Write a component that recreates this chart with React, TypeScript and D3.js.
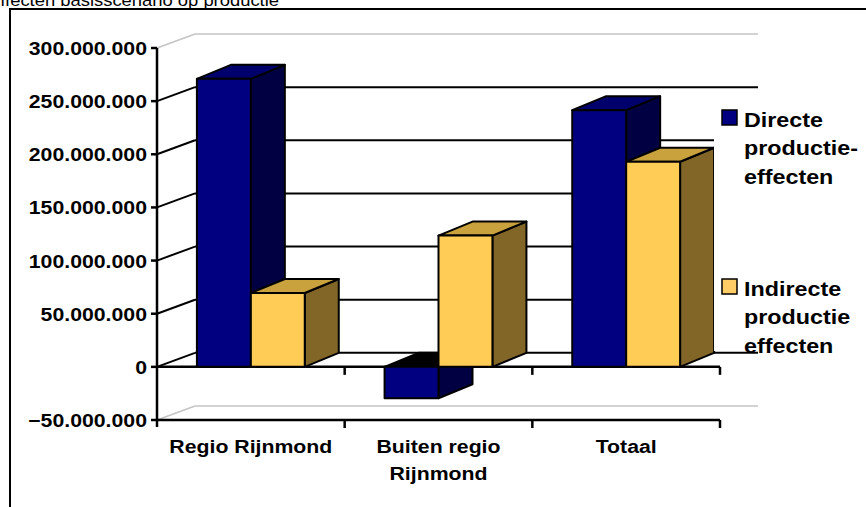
import React from "react";
import * as d3 from "d3";

// Categories (each entry lists the label lines) and the two series, in euros
const categoryLines: string[][] = [["Regio Rijnmond"], ["Buiten regio", "Rijnmond"], ["Totaal"]];
const directe: number[] = [271e6, -29.5e6, 241.5e6];
const indirecte: number[] = [69.5e6, 123.5e6, 193e6];
const seriesNames: string[] = ["Directe", "Indirecte"];
const legendLines: string[][] = [
  ["Directe", "productie-", "effecten"],
  ["Indirecte", "productie", "effecten"],
];
const yTicks: number[] = [-50e6, 0, 50e6, 100e6, 150e6, 200e6, 250e6, 300e6];
const title = "Effecten basisscenario op productie";

const FONT = "'Liberation Sans', Arial, Helvetica, sans-serif";

const nl = d3.formatLocale({ decimal: ",", thousands: ".", grouping: [3], currency: ["", ""] });
const fmt = nl.format(",d");

// Face colours per series: front, top, side
const faces = [
  { front: "#000080", top: "#00006c", side: "#000042" },
  { front: "#ffcc55", top: "#c9a23e", side: "#826628" },
];

export default function App() {
  const W = 866;
  const H = 507;
  // Front plane of the 3D box
  const left = 157;
  const right = 720;
  const y = d3.scaleLinear().domain([-50e6, 300e6]).range([420, 48]);
  const x0 = d3.scaleBand<number>().domain(d3.range(categoryLines.length)).range([left, right]);
  const x1 = d3
    .scaleBand<string>()
    .domain(seriesNames)
    .range([0, x0.bandwidth()])
    .paddingInner(0)
    .paddingOuter(0.74);
  // Depth offsets: wall and columns
  const wdx = 38, wdy = -14;
  const bdx = 34, bdy = -14;

  const values = [directe, indirecte];
  const topTick = yTicks[yTicks.length - 1];
  const bottomTick = yTicks[0];

  const stretch = (xx: number, yy: number, sx: number) => `translate(${xx},${yy}) scale(${sx},1)`;

  const bars: JSX.Element[] = [];
  categoryLines.forEach((_, ci) => {
    seriesNames.forEach((s, si) => {
      const v = values[si][ci];
      const bx = (x0(ci) as number) + (x1(s) as number);
      const w = x1.bandwidth();
      const yt = y(Math.max(v, 0));
      const yb = y(Math.min(v, 0));
      const c = faces[si];
      const pts = (p: number[][]) => p.map((q) => q.join(",")).join(" ");
      bars.push(
        <g key={`${ci}-${si}`} stroke="#000" strokeWidth={2} strokeLinejoin="round">
          <polygon
            points={pts([[bx + w, yt], [bx + w + bdx, yt + bdy], [bx + w + bdx, yb + bdy], [bx + w, yb]])}
            fill={c.side}
          />
          <polygon
            points={pts([[bx, yt], [bx + w, yt], [bx + w + bdx, yt + bdy], [bx + bdx, yt + bdy]])}
            fill={v < 0 ? "#000" : c.top}
          />
          <rect x={bx} y={yt} width={w} height={yb - yt} fill={c.front} />
        </g>
      );
    });
  });

  return (
    <svg
      width={W}
      height={H}
      viewBox={`0 0 ${W} ${H}`}
      style={{ position: "absolute", left: 0, top: 0, background: "#fff" }}
      fontFamily={FONT}
    >
      <rect x={0} y={0} width={W} height={H} fill="#fff" />
      {/* title */}
      <text transform={stretch(-12, 6, 1.15)} fontSize={16} fill="#000">
        {title}
      </text>
      {/* outer frame */}
      <path d={`M10,${H + 5} L10,9 L${W + 5},9`} fill="none" stroke="#000" strokeWidth={2} />

      {/* back wall gridlines and their diagonals */}
      {yTicks.map((t) => {
        const edge = t === topTick || t === bottomTick;
        const yy = y(t);
        return (
          <g key={`g${t}`} fill="none" stroke={edge ? "#c4c4c4" : "#000"} strokeWidth={edge ? 1.5 : 2}>
            <line x1={left} y1={yy} x2={left + wdx} y2={yy + wdy} />
            <line x1={left + wdx} y1={yy + wdy} x2={right + wdx} y2={yy + wdy} />
          </g>
        );
      })}

      {/* front axis lines */}
      <g stroke="#000" strokeWidth={2.5}>
        <line x1={left} y1={y(0)} x2={right} y2={y(0)} />
        <line x1={left} y1={y(bottomTick)} x2={right} y2={y(bottomTick)} />
        {d3.range(1, categoryLines.length + 1).map((i) => {
          const xx = left + i * x0.step();
          return (
            <g key={`ct${i}`}>
              <line x1={xx} y1={y(0)} x2={xx} y2={y(0) + 8} />
              <line x1={xx} y1={y(bottomTick)} x2={xx} y2={y(bottomTick) + 8} />
            </g>
          );
        })}
      </g>

      {bars}

      {/* value axis */}
      <g stroke="#000" strokeWidth={2.5}>
        <line x1={left} y1={y(topTick)} x2={left} y2={y(bottomTick) + 7} />
        {yTicks.map((t) => (
          <line key={`vt${t}`} x1={left - 6} y1={y(t)} x2={left} y2={y(t)} />
        ))}
      </g>
      {yTicks.map((t) => (
        <text
          key={`vl${t}`}
          transform={stretch(147, y(t) + 7, 1.15)}
          textAnchor="end"
          fontSize={18.5}
          fontWeight="bold"
          fill="#000"
        >
          {fmt(t)}
        </text>
      ))}

      {/* category labels */}
      {categoryLines.map((lines, ci) => {
        const cx = (x0(ci) as number) + x0.bandwidth() / 2;
        return lines.map((ln, li) => (
          <text
            key={`cl${ci}-${li}`}
            transform={stretch(cx, 453 + li * 27, 1.15)}
            textAnchor="middle"
            fontSize={18.5}
            fontWeight="bold"
            fill="#000"
          >
            {ln}
          </text>
        ));
      })}

      {/* legend */}
      <rect x={714} y={89} width={W - 714} height={262} fill="#fff" />
      {legendLines.map((lines, si) => {
        const top = si === 0 ? 110 : 279;
        return (
          <g key={`lg${si}`}>
            <rect x={722} y={top} width={15} height={15} fill={si === 0 ? faces[0].front : "#ffcc66"} stroke="#000" strokeWidth={1.5} />
            {lines.map((ln, li) => (
              <text
                key={`lt${si}-${li}`}
                transform={stretch(744, top + 16.5 + li * 28.5, 1.11)}
                fontSize={21}
                fontWeight="bold"
                fill="#000"
              >
                {ln}
              </text>
            ))}
          </g>
        );
      })}
    </svg>
  );
}
